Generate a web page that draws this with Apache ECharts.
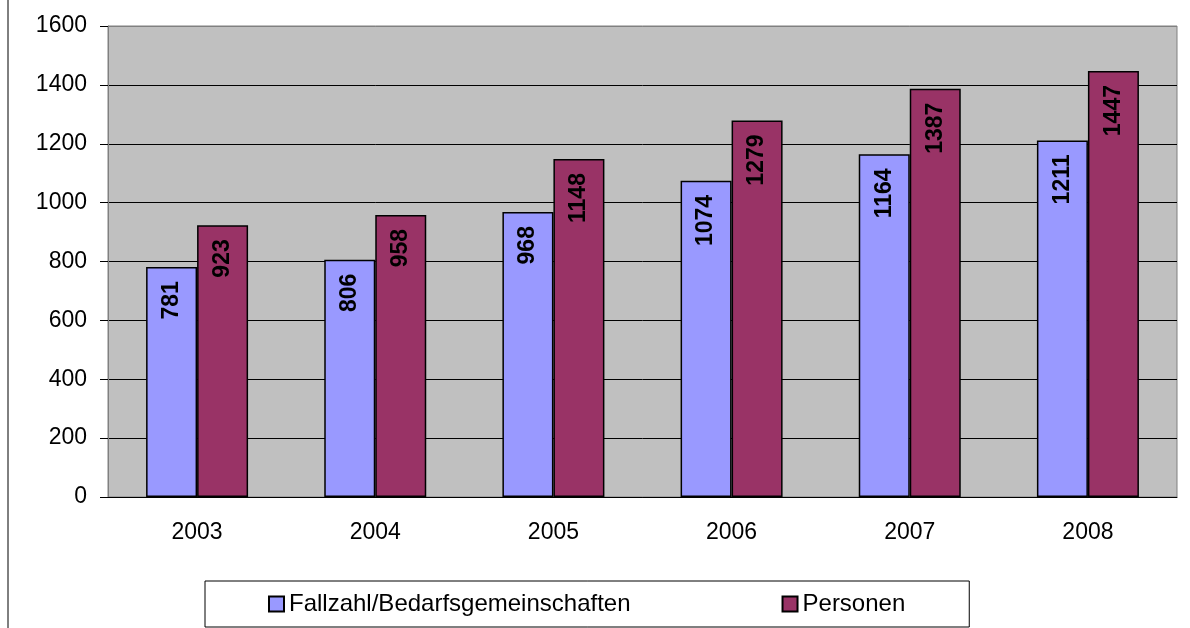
<!DOCTYPE html>
<html>
<head>
<meta charset="utf-8">
<script src="https://cdn.jsdelivr.net/npm/echarts@6/dist/echarts.min.js"></script>
<style>
  html, body {margin: 0; padding: 0; background: #fff;}
  #chart {width: 1190px; height: 628px;}
</style>
</head>
<body>
<div id="chart"></div>
<script>
const years = ['2003', '2004', '2005', '2006', '2007', '2008'];
const fallzahl = [781, 806, 968, 1074, 1164, 1211];
const personen = [923, 958, 1148, 1279, 1387, 1447];
const seriesNames = ['Fallzahl/Bedarfsgemeinschaften', 'Personen'];

const font = 'Arial, "Liberation Sans", sans-serif';

// Beschriftung senkrecht im Balken, oben
const barLabel = {
  show: true,
  position: 'insideTop',
  distance: 14,
  rotate: 90,
  align: 'right',
  verticalAlign: 'middle',
  color: '#000',
  fontWeight: 'bold',
  fontSize: 23,
  fontFamily: font
};

// oberste Gitterlinie grau wie der Rahmen
const gridColors = ['#000', '#000', '#000', '#000', '#000', '#000', '#000', '#000', '#808080'];

const chart = echarts.init(document.getElementById('chart'));
const option = {
  animation: false,
  backgroundColor: '#fff',
  grid: {
    left: 108,
    right: 13,
    top: 26,
    bottom: 131,
    show: true,
    backgroundColor: '#c0c0c0',
    borderColor: '#808080',
    borderWidth: 1
  },
  legend: {
    data: seriesNames,
    left: 205,
    top: 581,
    padding: [11, 64, 11, 63],
    itemGap: 151,
    itemWidth: 15,
    itemHeight: 15,
    icon: 'rect',
    borderColor: '#000',
    borderWidth: 1,
    textStyle: {fontSize: 24, color: '#000', fontFamily: font}
  },
  xAxis: {
    type: 'category',
    data: years,
    axisLine: {lineStyle: {color: '#000', width: 1}},
    axisTick: {length: 7, lineStyle: {color: '#000'}},
    axisLabel: {fontSize: 23, color: '#000', margin: 24, fontFamily: font}
  },
  yAxis: {
    type: 'value',
    min: 0,
    max: 1600,
    interval: 200,
    axisLine: {show: true, lineStyle: {color: '#808080'}},
    axisTick: {show: true, length: 8, lineStyle: {color: '#000'}},
    axisLabel: {fontSize: 23, color: '#000', margin: 21, fontFamily: font, formatter: v => String(v)},
    splitLine: {lineStyle: {color: gridColors, width: 1}}
  },
  series: [
    {
      name: seriesNames[0],
      type: 'bar',
      data: fallzahl,
      barWidth: 51,
      barGap: '0%',
      itemStyle: {color: '#9999ff', borderColor: '#000', borderWidth: 1.5},
      label: barLabel
    },
    {
      name: seriesNames[1],
      type: 'bar',
      data: personen,
      barWidth: 51,
      itemStyle: {color: '#993366', borderColor: '#000', borderWidth: 1.5},
      label: barLabel
    }
  ],
  graphic: [
    {
      type: 'line',
      shape: {x1: 8, y1: 0, x2: 8, y2: 628},
      style: {stroke: '#000', lineWidth: 1}
    }
  ]
};
chart.setOption(option);
</script>
</body>
</html>
